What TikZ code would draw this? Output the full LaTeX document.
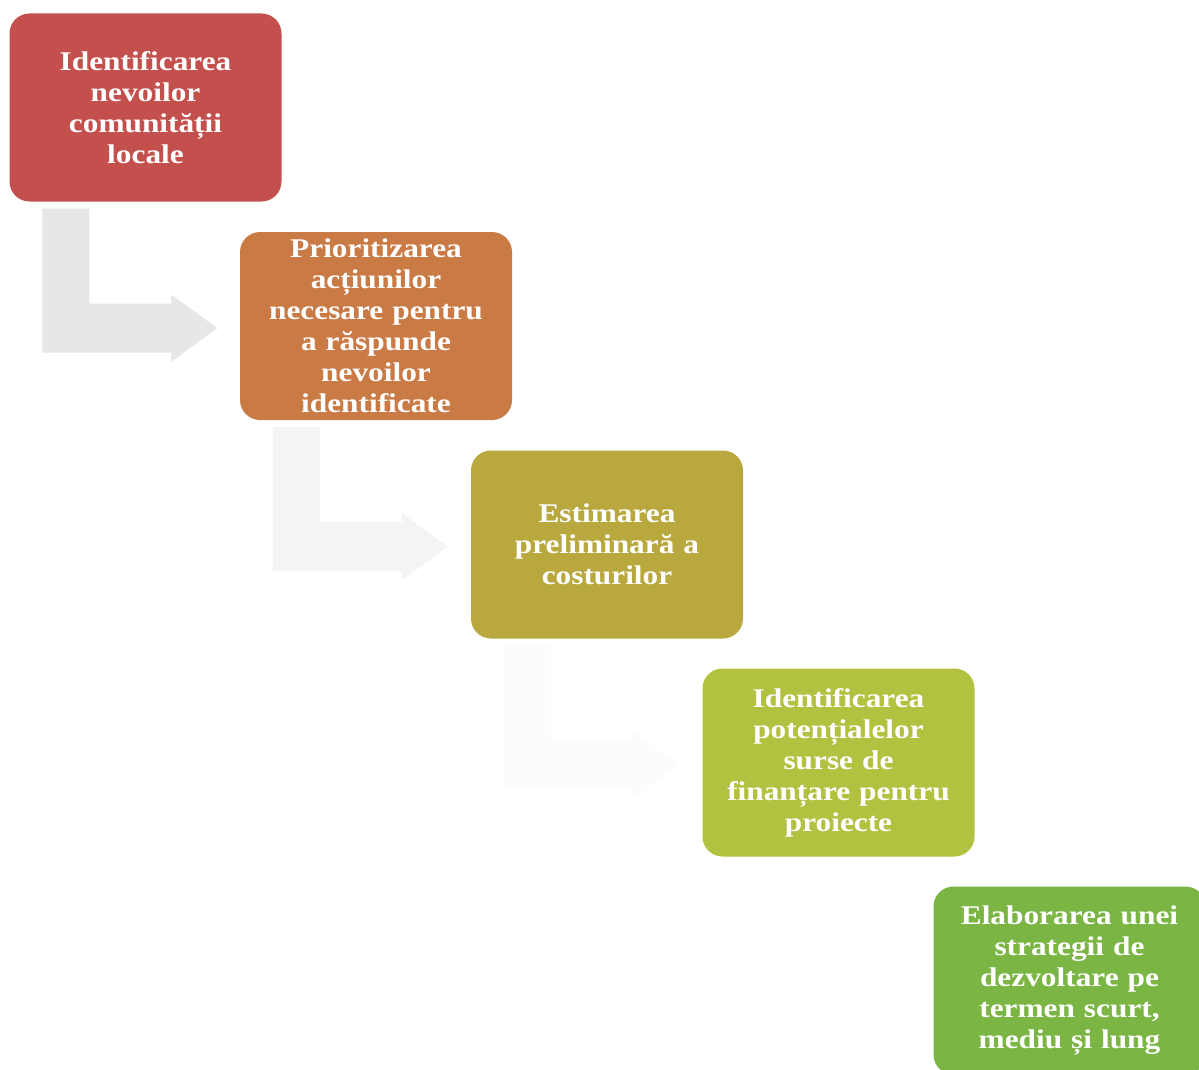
\documentclass[tikz,border=0pt]{standalone}
\usepackage{fontspec}
\setmainfont[FakeStretch=1.16]{Liberation Serif}
\definecolor{c1}{HTML}{C4504E}
\definecolor{c2}{HTML}{C97A45}
\definecolor{c3}{HTML}{B8A83E}
\definecolor{c4}{HTML}{B3C140}
\definecolor{c5}{HTML}{7BB544}
\definecolor{a1}{HTML}{E8E6E6}
\definecolor{a2}{HTML}{F5F4F4}
\definecolor{a3}{HTML}{FCFCFC}
\begin{document}
\begin{tikzpicture}[x=1pt,y=-1pt,
  stepbox/.style={rounded corners=20pt, minimum width=272pt, minimum height=188pt,
    align=center, text=white, inner sep=0pt, text width=262pt,
    font=\bfseries\fontsize{27}{31}\selectfont}]
\fill[white] (0,0) rectangle (1199,1070);
\useasboundingbox (0,0) rectangle (1199,1070);
\clip (0,0) rectangle (1199,1070);

\node[stepbox, fill=c1] (b1) at (145.5,107.5) {Identificarea\\nevoilor\\comunității\\locale};
\node[stepbox, fill=c2] (b2) at (376,326) {Prioritizarea\\acțiunilor\\necesare pentru\\a răspunde\\nevoilor\\identificate};
\node[stepbox, fill=c3] (b3) at (607,544.5) {Estimarea\\preliminară a\\costurilor};
\node[stepbox, fill=c4] (b4) at (838.5,762.5) {Identificarea\\potențialelor\\surse de\\finanțare pentru\\proiecte};
\node[stepbox, fill=c5] (b5) at (1069.5,980.5) {Elaborarea unei\\strategii de\\dezvoltare pe\\termen scurt,\\mediu și lung};

\foreach \b/\c in {b1/a1, b2/a2, b3/a3}{
  \begin{scope}[shift={(\b.south west)}]
    \fill[\c] (33,7) -- (80,7) -- (80,102) -- (162,102) -- (162,93) -- (208,126.5)
      -- (162,160) -- (162,151) -- (33,151) -- cycle;
  \end{scope}
}
\end{tikzpicture}
\end{document}
